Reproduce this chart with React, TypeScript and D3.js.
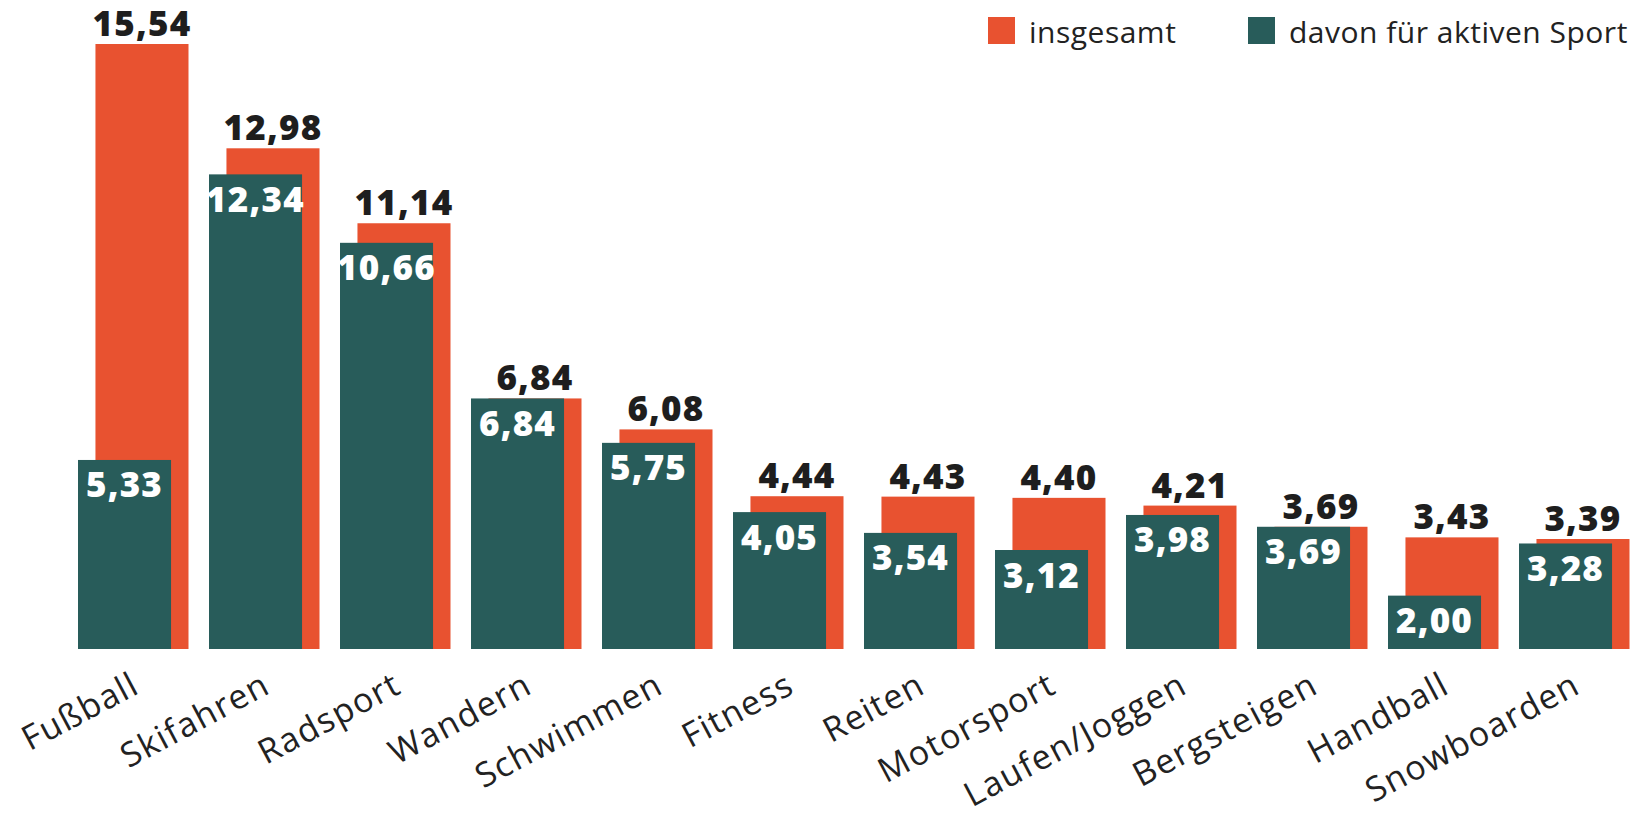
import React from "react";
import * as d3 from "d3";

// Werte (Mio.) je Sportart
const sports = ["Fußball", "Skifahren", "Radsport", "Wandern", "Schwimmen", "Fitness", "Reiten", "Motorsport", "Laufen/Joggen", "Bergsteigen", "Handball", "Snowboarden"];
const total = [15.54, 12.98, 11.14, 6.84, 6.08, 4.44, 4.43, 4.40, 4.21, 3.69, 3.43, 3.39];
const active = [5.33, 12.34, 10.66, 6.84, 5.75, 4.05, 3.54, 3.12, 3.98, 3.69, 2.00, 3.28];
const seriesNames = ["insgesamt", "davon für aktiven Sport"];

const ORANGE = "#e85230";
const TEAL = "#285c5a";
const DARK = "#1e1e1e";

const width = 1644, height = 821;
const base = 649, top = 44;

const de = d3.formatLocale({ decimal: ",", thousands: ".", grouping: [3], currency: ["", " €"] });
const fmt = de.format(".2f");

const App = () => {
  const x = d3.scaleBand<string>()
    .domain(sports)
    .range([78, 1629.5])
    .paddingInner(0.1565)
    .paddingOuter(0);

  // y-Achse startet nicht bei 0 (wie im Original)
  const y = d3.scaleLinear()
    .domain([0.69, d3.max(total) as number])
    .range([base, top]);

  const bw = x.bandwidth();
  const barW = bw * 0.842;
  const off = bw - barW;

  const colors = d3.scaleOrdinal<string, string>().domain(seriesNames).range([ORANGE, TEAL]);
  const legendX = [988, 1248];

  const valueFont = { fontFamily: "'Open Sans', sans-serif", fontWeight: 800, fontSize: 35, letterSpacing: 1.2 };
  const labelFont = { fontFamily: "'Open Sans', sans-serif", fontWeight: 400, fontSize: 34, letterSpacing: 1.4 };

  return (
    <div>
      <style>{"body{margin:0}"}</style>
      <svg width={width} height={height} style={{ display: "block", background: "#fff" }}>
        <g className="bars">
          {sports.map((s, i) => {
            const x0 = x(s) as number;
            return (
              <g key={s}>
                <rect x={x0 + off} y={y(total[i])} width={barW} height={base - y(total[i])} fill={ORANGE} />
                <rect x={x0} y={y(active[i])} width={barW} height={base - y(active[i])} fill={TEAL} />
                <text x={x0 + off + barW / 2} y={y(total[i]) - 8} textAnchor="middle" fill={DARK} {...valueFont}>
                  {fmt(total[i])}
                </text>
                <text x={x0 + barW / 2} y={y(active[i]) + 37.5} textAnchor="middle" fill="#fff" {...valueFont}>
                  {fmt(active[i])}
                </text>
              </g>
            );
          })}
        </g>
        <g className="axis-labels">
          {sports.map(s => (
            <g key={s} transform={`translate(${(x(s) as number) + bw / 2 + 8},${692}) rotate(-28)`}>
              <text textAnchor="end" fill="#222" {...labelFont}>{s}</text>
            </g>
          ))}
        </g>
        <g className="legend">
          {seriesNames.map((n, i) => (
            <g key={n} transform={`translate(${legendX[i]},17)`}>
              <rect width={27} height={27} fill={colors(n)} />
              <text x={41} y={26} fill="#222" fontFamily="'Open Sans', sans-serif" fontSize={30} letterSpacing={0.5}>{n}</text>
            </g>
          ))}
        </g>
      </svg>
    </div>
  );
};

export default App;
